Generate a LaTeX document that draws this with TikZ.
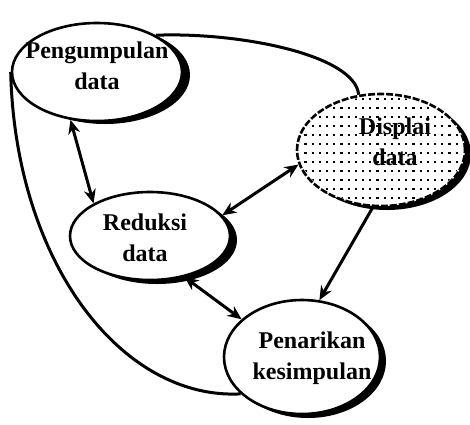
\documentclass[tikz,border=0pt]{standalone}
\usepackage{fontspec}
\setmainfont{Liberation Serif}
\usetikzlibrary{shapes.geometric,arrows.meta}
\begin{document}
\begin{tikzpicture}[x=1pt,y=-1pt,
  oval/.style={ellipse,draw=black,line width=2.6pt,fill=white,inner sep=0pt},
  shadowoval/.style={ellipse,fill=black,inner sep=0pt},
  lbl/.style={font=\bfseries\fontsize{24}{31}\selectfont,align=center,inner sep=0pt},
  conn/.style={line width=3pt},
  tipA/.tip={Stealth[length=14pt,width=12pt]},
  arr/.style={conn,tipA-tipA},
  arrone/.style={conn,-tipA},
  dotrow/.style={dash pattern=on 2.2pt off 5pt,line width=2pt}
  ]
\useasboundingbox (0,0) rectangle (470,424);
% shadows
\node[shadowoval,minimum width=170pt,minimum height=98pt] (pengS) at (105,75) {};
\node[shadowoval,minimum width=160pt,minimum height=88pt] (redS) at (157,240) {};
\node[shadowoval,minimum width=168pt,minimum height=112pt] (dispS) at (387,154) {};
\node[shadowoval,minimum width=156pt,minimum height=114pt] (penS) at (308,361) {};
% ellipses
\node[oval,minimum width=170pt,minimum height=98pt] (peng) at (97,72) {};
\node[oval,minimum width=160pt,minimum height=88pt] (red) at (150,236) {};
\node[oval,draw=none,minimum width=168pt,minimum height=112pt] (disp) at (381,150) {};
\node[oval,minimum width=156pt,minimum height=114pt] (pen) at (302,357) {};
% dotted fill of Displai
\begin{scope}
  \clip (381,150) ellipse [x radius=82, y radius=54];
  \foreach \yy in {99,108,...,206} \draw[dotrow] (290,\yy) -- (470,\yy);
\end{scope}
\node[ellipse,draw=black,line width=2.6pt,dash pattern=on 7pt off 2pt,inner sep=0pt,minimum width=168pt,minimum height=112pt] (dispB) at (381,150) {};
% labels
\node[lbl] (pengT) at (97,66) {Pengumpulan\\data};
\node[lbl] (dispT) at (395,142) {Displai\\data};
\node[lbl] (redT) at (145,238) {Reduksi\\data};
\node[lbl] (penT) at (312,358) {Penarikan\\kesimpulan};
% curves
\draw[conn] (peng.32) .. controls (240,32) and (355,55) .. (disp.112);
\draw[conn] (peng.180) .. controls (15,260) and (120,400) .. (pen.211);
% arrows
\draw[arr] (peng.241) -- (red.150);
\draw[arr] (red.16) -- (disp.190);
\draw[arr] (red.310) -- (pen.148);
\draw[arrone] (disp.262) -- (pen.73);
\end{tikzpicture}
\end{document}
